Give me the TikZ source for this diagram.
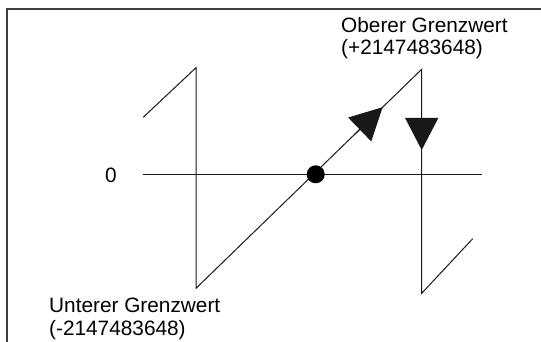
\documentclass[tikz,border=0pt]{standalone}
\usepackage{fontspec}
\setmainfont{Liberation Sans}
\usetikzlibrary{arrows.meta,calc}

\begin{document}
\begin{tikzpicture}[
    x=1pt,y=-1pt,
    curve/.style={line width=1pt,draw=black!90},
    frame/.style={line width=1.6pt,draw=black!75},
    bigtri/.style={-{Triangle[length=32pt,width=33pt]},line width=1pt,draw=black!90},
    lbl/.style={font=\fontsize{20.8}{22.3}\selectfont,align=left,inner sep=0pt,anchor=base west}
  ]
  \useasboundingbox (0,0) rectangle (541,342);
  \draw[frame] (7,342) -- (7,9) -- (541,9);

  % sawtooth
  \coordinate (a1) at (143.2,117.3);
  \coordinate (a2) at (196,67.7);
  \coordinate (a3) at (196,288.3);
  \coordinate (a4) at (421.7,69.3);
  \coordinate (a5) at (421.7,293.3);
  \coordinate (a6) at (472.7,238.7);
  \coordinate (ax0) at (143.2,174.3);
  \coordinate (ax1) at (482.4,174.3);
  \coordinate (tipup) at ($(a3)!0.827!(a4)$);
  \coordinate (tipdown) at (421.7,150);

  \draw[curve] (ax0) -- (ax1);
  \draw[curve] (a1) -- (a2) -- (a3) -- (a4) -- (a5) -- (a6);
  \fill (315.7,174.3) circle (9pt);
  \draw[bigtri] ($(a3)!0.7!(a4)$) -- (tipup);
  \draw[bigtri] (a4) -- (tipdown);

  % labels (base = last line)
  \node[lbl,anchor=center] (zero) at (111,175.5) {0};
  \node[lbl] (upper) at (341,55) {Oberer Grenzwert\\(+2147483648)};
  \node[lbl] (lower) at (49,335) {Unterer Grenzwert\\(-2147483648)};
\end{tikzpicture}
\end{document}
